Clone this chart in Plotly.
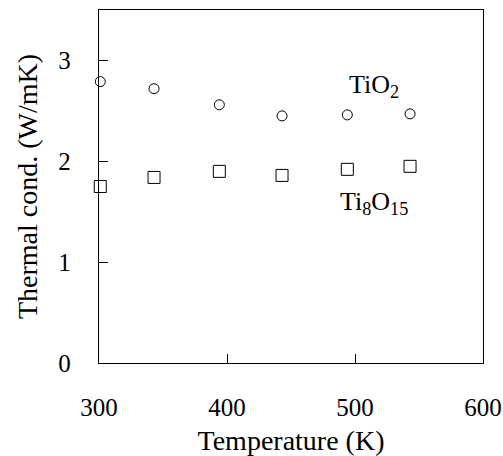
import plotly.graph_objects as go

temps_tio2 = [301, 343, 394, 443, 494, 543]
cond_tio2 = [2.79, 2.72, 2.56, 2.45, 2.46, 2.47]
temps_ti8o15 = [301, 343, 394, 443, 494, 543]
cond_ti8o15 = [1.75, 1.84, 1.90, 1.86, 1.92, 1.95]

FONT = "Liberation Serif"

fig = go.Figure()
fig.add_trace(go.Scatter(
    x=temps_tio2, y=cond_tio2, mode="markers", name="TiO2",
    marker=dict(symbol="circle-open", size=10, color="black", line=dict(width=1, color="black")),
    cliponaxis=False,
))
fig.add_trace(go.Scatter(
    x=temps_ti8o15, y=cond_ti8o15, mode="markers", name="Ti8O15",
    marker=dict(symbol="square-open", size=12, color="black", line=dict(width=1, color="black")),
    cliponaxis=False,
))

fig.add_annotation(x=515, y=2.75, text="TiO<sub>2</sub>", showarrow=False,
                   font=dict(family=FONT, size=26, color="black"))
fig.add_annotation(x=515, y=1.59, text="Ti<sub>8</sub>O<sub>15</sub>", showarrow=False,
                   font=dict(family=FONT, size=26, color="black"))

fig.update_layout(
    width=503, height=456,
    margin=dict(l=99, r=20, t=10, b=93),
    paper_bgcolor="white", plot_bgcolor="white",
    showlegend=False,
    font=dict(family=FONT, color="black"),
)
fig.update_xaxes(
    range=[300, 600], tickvals=[300, 400, 500, 600], automargin=False,
    ticks="inside", ticklen=9, tickwidth=1, tickcolor="black",
    showline=True, linecolor="black", linewidth=1.3, mirror=True,
    showgrid=False, zeroline=False,
    tickfont=dict(family=FONT, size=25, color="black"),
    ticklabelstandoff=22,
    title=dict(text="Temperature (K)", font=dict(family=FONT, size=28, color="black"), standoff=10),
)
fig.update_yaxes(
    range=[0, 3.5], tickvals=[0, 1, 2, 3], automargin=False,
    ticks="inside", ticklen=9, tickwidth=1, tickcolor="black",
    showline=True, linecolor="black", linewidth=1.3, mirror=True,
    showgrid=False, zeroline=False,
    tickfont=dict(family=FONT, size=25, color="black"),
    ticklabelstandoff=22,
    title=dict(text="Thermal cond. (W/mK)", font=dict(family=FONT, size=28, color="black"), standoff=12),
)

fig.write_html("out.html")
